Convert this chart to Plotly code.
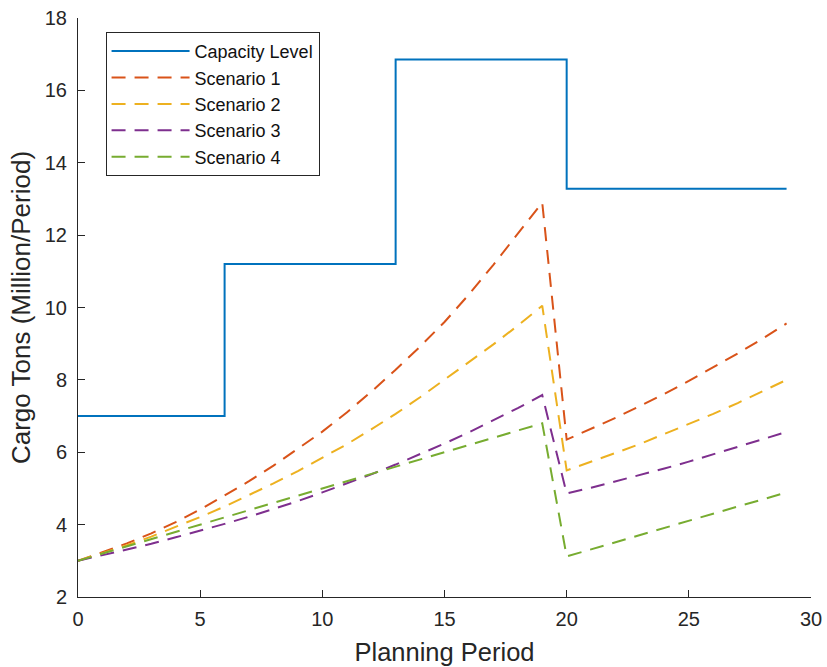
import plotly.graph_objects as go

# Capacity step levels
cap_x = [0, 6, 13, 20, 29]
cap_y = [7.0, 11.2, 16.85, 13.28, 13.28]

periods_a = list(range(0, 20))   # 0..19
periods_b = list(range(20, 30))  # 20..29
periods = periods_a + periods_b

s1 = [3.0, 3.23, 3.48, 3.76, 4.07, 4.42, 4.80, 5.20, 5.63, 6.09,
      6.57, 7.10, 7.67, 8.28, 8.92, 9.60, 10.36, 11.18, 12.03, 12.9,
      6.35, 6.64, 6.95, 7.28, 7.61, 7.97, 8.34, 8.73, 9.13, 9.56]
s2 = [3.0, 3.21, 3.43, 3.67, 3.93, 4.21, 4.50, 4.81, 5.14, 5.48,
      5.84, 6.22, 6.63, 7.06, 7.52, 8.0, 8.48, 8.98, 9.5, 10.05,
      5.5, 5.73, 5.98, 6.23, 6.5, 6.77, 7.06, 7.36, 7.67, 8.0]
s3 = [3.0, 3.15, 3.31, 3.47, 3.65, 3.83, 4.02, 4.22, 4.43, 4.65,
      4.89, 5.13, 5.39, 5.66, 5.94, 6.24, 6.55, 6.88, 7.22, 7.58,
      4.86, 5.02, 5.19, 5.37, 5.55, 5.74, 5.94, 6.14, 6.35, 6.56]
s4 = [3.0, 3.2, 3.4, 3.6, 3.8, 4.0, 4.2, 4.4, 4.6, 4.8,
      5.0, 5.2, 5.4, 5.6, 5.8, 6.0, 6.2, 6.4, 6.6, 6.8,
      3.12, 3.32, 3.51, 3.71, 3.91, 4.10, 4.30, 4.50, 4.69, 4.89]

names = ["Scenario 1", "Scenario 2", "Scenario 3", "Scenario 4"]
colors = ["#D95319", "#EDB120", "#7E2F8E", "#77AC30"]

fig = go.Figure()
fig.add_trace(go.Scatter(x=cap_x, y=cap_y, mode="lines", name="Capacity Level",
                         line=dict(color="#0072BD", width=2, shape="hv")))
for nm, col, ys in zip(names, colors, [s1, s2, s3, s4]):
    fig.add_trace(go.Scatter(x=periods, y=ys, mode="lines", name=nm,
                             line=dict(color=col, width=2, dash="14px,9px")))

FONT = "Liberation Sans, Arial, Helvetica"
axis_common = dict(
    showline=True, linecolor="#262626", linewidth=1,
    ticks="inside", ticklen=7, tickwidth=1, tickcolor="#262626",
    showgrid=False, zeroline=False, mirror=False, automargin=False,
    ticklabeloverflow="allow",
    tickfont=dict(family=FONT, size=20, color="#262626"),
)

fig.update_layout(
    template="none",
    width=827, height=667,
    margin=dict(l=78, r=16, t=18, b=70, autoexpand=False),
    paper_bgcolor="white", plot_bgcolor="white",
    font=dict(family=FONT, color="#262626"),
    xaxis=dict(range=[0, 30], tickmode="linear", tick0=0, dtick=5,
               ticklabelstandoff=4,
               title=dict(text="Planning Period", font=dict(size=25.5, color="#262626"), standoff=14),
               **axis_common),
    yaxis=dict(range=[2, 18], tickmode="linear", tick0=2, dtick=2,
               ticklabelstandoff=6,
               title=dict(text="Cargo Tons (Million/Period)", font=dict(size=26, color="#262626"), standoff=6),
               **axis_common),
    legend=dict(x=0.0376, y=0.976, xanchor="left", yanchor="top",
                bordercolor="#262626", borderwidth=1, bgcolor="white",
                font=dict(family=FONT, size=18, color="#111111"), itemwidth=78,
                tracegroupgap=0),
    showlegend=True,
)

fig.write_html("out.html")
